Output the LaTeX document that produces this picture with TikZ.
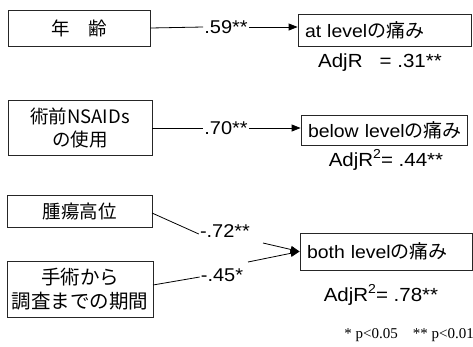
\documentclass[tikz,border=0pt]{standalone}
\usepackage{fontspec}
\setmainfont{Liberation Sans}[FakeStretch=1.08]
\newfontfamily\jp{Noto Sans CJK JP}
\newfontfamily\serifnote{Liberation Serif}
\usetikzlibrary{arrows.meta}
\newcommand{\jpbig}[1]{{\jp\fontsize{19}{21}\selectfont #1}}
\newcommand{\sqtwo}{\raisebox{0.42em}{\fontsize{13}{13}\selectfont 2}}
\begin{document}
\begin{tikzpicture}[x=1pt,y=-1pt,
  lbox/.style={draw=black!85, line width=0.8pt, inner sep=2pt, align=center, font=\jp\fontsize{18.5}{23}\selectfont},
  rbox/.style={draw=black!85, line width=0.8pt, inner xsep=7pt, inner ysep=2pt, align=left, font=\fontsize{18}{20}\selectfont},
  coef/.style={inner sep=1pt, font=\fontsize{18.5}{20}\selectfont},
  adj/.style={inner sep=1pt, font=\fontsize{19}{21}\selectfont},
  conn/.style={line width=0.8pt},
  arr/.style={line width=0.8pt, -{Triangle[length=9pt,width=7pt]}}]
\fill[white] (0,0) rectangle (473,346);
\useasboundingbox (0,0) rectangle (473,346);
% left boxes
\node[lbox, minimum width=142pt, minimum height=36pt] (a1) at (79,28) {年　齢};
\node[lbox, minimum width=144pt, minimum height=55pt] (a2) at (80,127.5) {術前NSAIDs\\の使用};
\node[lbox, minimum width=145pt, minimum height=32pt] (a3) at (79.5,211) {腫瘍高位};
\node[lbox, minimum width=146pt, minimum height=56pt, font=\jp\fontsize{19.5}{24}\selectfont] (a4) at (80,289) {手術から\\調査までの期間};
% right boxes
\node[rbox, minimum width=173pt, minimum height=32pt, text width=159pt] (b1) at (384.5,30.5) {\mbox{at level\jpbig{の痛み}}};
\node[rbox, minimum width=166pt, minimum height=30pt, text width=152pt] (b2) at (384,130) {\mbox{below level\jpbig{の痛み}}};
\node[rbox, minimum width=172pt, minimum height=37pt, text width=158pt] (b3) at (386,251.5) {\mbox{both level\jpbig{の痛み}}};
% coefficients
\node[coef] (l1) at (226,27) {.59**};
\node[coef] (l2) at (226,128) {.70**};
\node[coef] (l3) at (225,231) {-.72**};
\node[coef] (l4) at (222,275) {-.45*};
% R squared
\node[adj] (r1) at (380,63) {AdjR\ \ \ = .31**};
\node[adj] (r2) at (386,160) {AdjR\sqtwo= .44**};
\node[adj] (r3) at (381,295) {AdjR\sqtwo= .78**};
\node[inner sep=0pt, anchor=east, font=\serifnote\fontsize{15}{17}\selectfont] (fn) at (474,335) {* p<0.05\ \ \ \ ** p<0.01};
% connectors
\draw[conn] (a1.east) -- (l1.west);
\draw[arr] (l1.east) -- (l1 -| b1.west);
\draw[conn] (a2.east |- l2) -- (l2.west);
\draw[arr] (l2.east) -- (l2 -| b2.west);
\coordinate (s3) at (152,213);
\coordinate (s4) at (153,285);
\coordinate (t3) at (263,243);
\coordinate (t4) at (248,262);
\coordinate (tip) at (b3.west);
\draw[conn] (s3) -- ([yshift=-3pt]l3.west);
\draw[conn] (s4) -- ([yshift=-2pt]l4.west);
\draw[arr] (t3) -- (tip);
\draw[arr] (t4) -- (tip);
\end{tikzpicture}
\end{document}
